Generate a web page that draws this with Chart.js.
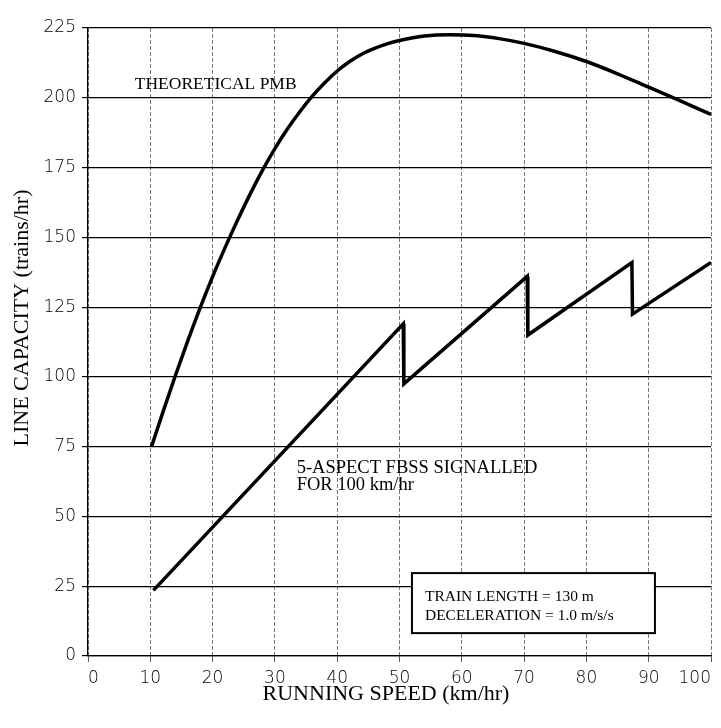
<!DOCTYPE html>
<html>
<head>
<meta charset="utf-8">
<script src="https://cdn.jsdelivr.net/npm/chart.js@4.4.1/dist/chart.umd.min.js"></script>
<style>
  html, body { margin: 0; padding: 0; background: #fff; }
  #wrap { width: 721px; height: 728px; }
</style>
</head>
<body>
<div id="wrap"><canvas id="capacity"></canvas></div>
<script>
// theoretical moving block curve
const pmbSpeed = [10.2, 12, 14, 16, 18, 20, 22, 24, 26, 28, 30, 32, 34, 36, 38, 40, 42, 44, 46, 48, 50, 54, 58, 62, 66, 70, 75, 80, 85, 90, 95, 100];
const pmbCap   = [75, 87.2, 100.3, 112.8, 124.7, 135.9, 146.3, 156.1, 165.4, 174, 181.8, 188.8, 195, 200.6, 205.4, 209.6, 213, 215.7, 217.7, 219.3, 220.5, 222.1, 222.6, 222.3, 221.2, 219.5, 216.6, 213, 208.6, 203.8, 199, 194];

// 5-aspect fixed block, signalled for 100 km/hr
const fbssSpeed = [10.5, 50.6, 50.7, 70.5, 70.6, 87.3, 87.4, 100];
const fbssCap   = [23.5, 119, 97.5, 136, 115, 141, 122.5, 141];

const pmbLabel = 'THEORETICAL PMB';
const fbssLabel = ['5-ASPECT FBSS SIGNALLED', 'FOR 100 km/hr'];
const boxLines = ['TRAIN LENGTH = 130 m', 'DECELERATION = 1.0 m/s/s'];

function toPoints(xs, ys) {
  return xs.map((v, i) => ({ x: v, y: ys[i] }));
}

const notes = {
  id: 'notes',
  afterDatasetsDraw(chart) {
    const { ctx, chartArea, scales: { x, y } } = chart;
    ctx.save();
    ctx.fillStyle = '#000';
    ctx.textAlign = 'left';
    ctx.textBaseline = 'alphabetic';

    ctx.font = '17.5px "Liberation Serif"';
    ctx.fillText(pmbLabel, x.getPixelForValue(7.5), y.getPixelForValue(203.2));

    ctx.font = '18.5px "Liberation Serif"';
    const fx = x.getPixelForValue(33.5);
    const fy = y.getPixelForValue(65.6);
    ctx.fillText(fbssLabel[0], fx, fy);
    ctx.fillText(fbssLabel[1], fx, fy + 17);

    // info box
    const bl = x.getPixelForValue(52), br = x.getPixelForValue(91);
    const bt = y.getPixelForValue(29.7), bb = y.getPixelForValue(8.2);
    ctx.fillStyle = '#fff';
    ctx.fillRect(bl, bt, br - bl, bb - bt);
    ctx.lineWidth = 2;
    ctx.strokeStyle = '#000';
    ctx.strokeRect(bl, bt, br - bl, bb - bt);
    ctx.fillStyle = '#000';
    ctx.font = '15.5px "Liberation Serif"';
    ctx.fillText(boxLines[0], bl + 13, bt + 28);
    ctx.fillText(boxLines[1], bl + 13, bt + 47);

    // axis titles
    ctx.font = '22px "Liberation Serif"';
    ctx.textAlign = 'center';
    ctx.fillText('RUNNING SPEED (km/hr)', chartArea.left + 298, 700);
    ctx.translate(22, chartArea.top + 290);
    ctx.rotate(-Math.PI / 2);
    ctx.textBaseline = 'middle';
    ctx.fillText('LINE CAPACITY (trains/hr)', 0, 0);
    ctx.restore();
  }
};

const tickFont = { family: '"DejaVu Sans", sans-serif', size: 17, weight: 200 };

new Chart(document.getElementById('capacity').getContext('2d'), {
  type: 'line',
  data: {
    datasets: [
      {
        label: pmbLabel,
        data: toPoints(pmbSpeed, pmbCap),
        borderColor: '#000',
        borderWidth: 3.5,
        pointRadius: 0,
        cubicInterpolationMode: 'monotone',
        fill: false
      },
      {
        label: fbssLabel.join(' '),
        data: toPoints(fbssSpeed, fbssCap),
        borderColor: '#000',
        borderWidth: 3.5,
        pointRadius: 0,
        tension: 0,
        borderJoinStyle: 'miter',
        fill: false
      }
    ]
  },
  options: {
    responsive: true,
    maintainAspectRatio: false,
    animation: false,
    layout: { padding: { top: 28, right: 10, left: 0, bottom: 0 } },
    plugins: {
      legend: { display: false },
      tooltip: { enabled: false }
    },
    scales: {
      x: {
        type: 'linear',
        min: 0,
        max: 100,
        ticks: { stepSize: 10, color: '#000', font: tickFont, padding: 6, maxRotation: 0, align: 'inner' },
        grid: { color: '#7a7a7a', lineWidth: 1, tickLength: 6, tickColor: '#555' },
        border: { display: true, color: '#000', width: 1.3, dash: [4, 2] },
        afterFit(scale) {
          scale.height = 72;
          scale.paddingLeft = 0;
          scale.paddingRight = 0;
        }
      },
      y: {
        min: 0,
        max: 225,
        ticks: { stepSize: 25, color: '#000', font: tickFont, padding: 6 },
        grid: { color: '#000', lineWidth: 1.2, tickLength: 6, tickColor: '#000' },
        border: { display: true, color: '#000', width: 1.3 },
        afterFit(scale) {
          scale.width = 88;
        }
      }
    }
  },
  plugins: [notes]
});
</script>
</body>
</html>
